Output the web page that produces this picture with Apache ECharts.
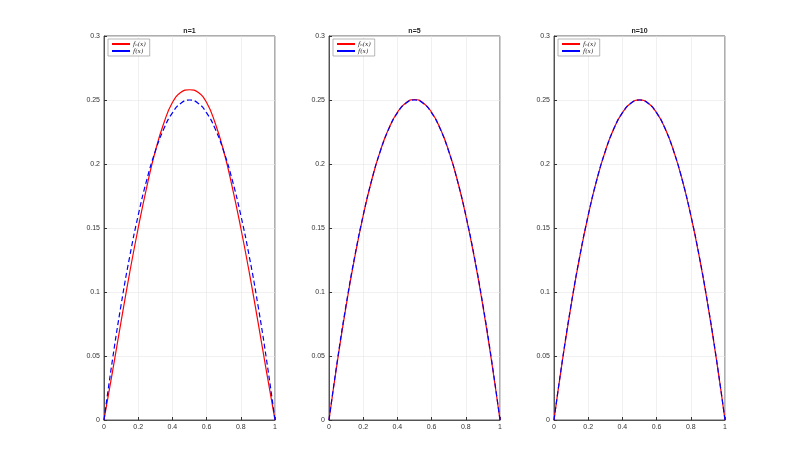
<!DOCTYPE html>
<html><head><meta charset="utf-8">
<script src="https://cdn.jsdelivr.net/npm/echarts@6/dist/echarts.min.js"></script>
<style>body{margin:0;background:#fff}#c{width:800px;height:472px}</style>
</head><body><div id="c"></div>
<script>
// x 采样点
const xs = [0, 0.05, 0.1, 0.15, 0.2, 0.25, 0.3, 0.35, 0.4, 0.45, 0.5, 0.55, 0.6, 0.65, 0.7, 0.75, 0.8, 0.85, 0.9, 0.95, 1]
const titles = ['n=1', 'n=5', 'n=10']
// f(x)
const fTrue = [0, 0.0475, 0.09, 0.1275, 0.16, 0.1875, 0.21, 0.2275, 0.24, 0.2475, 0.25, 0.2475, 0.24, 0.2275, 0.21, 0.1875, 0.16, 0.1275, 0.09, 0.0475, 0]
// f_n(x)
const fN1 = [0, 0.038, 0.077, 0.115, 0.150, 0.182, 0.210, 0.232, 0.248, 0.256, 0.258, 0.256, 0.248, 0.232, 0.210, 0.182, 0.150, 0.115, 0.077, 0.038, 0]
const fN5 = [0, 0.0465, 0.0890, 0.1268, 0.1597, 0.1876, 0.2103, 0.2279, 0.2404, 0.2479, 0.2504, 0.2479, 0.2404, 0.2279, 0.2103, 0.1876, 0.1597, 0.1268, 0.0890, 0.0465, 0]
const fN10 = [0, 0.0471, 0.0896, 0.1273, 0.1599, 0.1876, 0.2101, 0.2277, 0.2401, 0.2476, 0.2501, 0.2476, 0.2401, 0.2277, 0.2101, 0.1876, 0.1599, 0.1273, 0.0896, 0.0471, 0]
const fNs = [fN1, fN5, fN10]

const lefts = [104, 329, 554]
const pw = 171
const grid = [], xAxis = [], yAxis = [], series = [], title = [], legend = []
const axisCommon = {
  axisLine: { show: true, lineStyle: { color: '#333', width: 0.8 } },
  axisTick: { show: true, inside: true, length: 3, lineStyle: { color: '#333' } },
  axisLabel: { fontSize: 7, color: '#333', fontFamily: 'Liberation Sans' },
  splitLine: { show: true, lineStyle: { color: '#e6e6e6', width: 0.6 } }
}
lefts.forEach((l, i) => {
  grid.push({ left: l, top: 36, width: pw, height: 384, show: true, borderColor: '#333', borderWidth: 0.8, backgroundColor: '#fff' })
  xAxis.push(Object.assign({ type: 'value', gridIndex: i, min: 0, max: 1, interval: 0.2 }, axisCommon,
    { axisLabel: Object.assign({}, axisCommon.axisLabel, { margin: 4, formatter: v => String(+v.toFixed(1)) }) }))
  yAxis.push(Object.assign({ type: 'value', gridIndex: i, min: 0, max: 0.3, interval: 0.05 }, axisCommon,
    { axisLabel: Object.assign({}, axisCommon.axisLabel, { margin: 4, formatter: v => String(+v.toFixed(2)) }) }))
  title.push({ text: titles[i], left: l + pw / 2, top: 28, textAlign: 'center', padding: 0,
    textStyle: { fontSize: 7, fontWeight: 'bold', color: '#222', fontFamily: 'Liberation Sans' } })
  series.push({ name: 'fn' + i, type: 'line', xAxisIndex: i, yAxisIndex: i, smooth: true, symbol: 'none',
    data: xs.map((x, k) => [x, fNs[i][k]]), itemStyle: { color: '#ff0000' }, lineStyle: { color: '#ff0000', width: 1.2 } })
  series.push({ name: 'f' + i, type: 'line', xAxisIndex: i, yAxisIndex: i, smooth: true, symbol: 'none',
    data: xs.map((x, k) => [x, fTrue[k]]), itemStyle: { color: '#0000ff' }, lineStyle: { color: '#0000ff', width: 1.2, type: [5, 3] } })
  legend.push({ data: ['fn' + i, 'f' + i], left: l + 4, top: 39, orient: 'vertical', itemWidth: 18, itemHeight: 2, itemGap: 1,
    padding: [2, 4], borderColor: '#888', borderWidth: 0.6, backgroundColor: '#fff', icon: 'rect',
    formatter: n => n.startsWith('fn') ? 'fₙ(x)' : 'f(x)',
    textStyle: { fontSize: 6, fontStyle: 'italic', fontFamily: 'DejaVu Serif', color: '#222', padding: [0, 0, 0, -2] } })
})
echarts.init(document.getElementById('c')).setOption({
  animation: false, grid, xAxis, yAxis, series, title, legend
})
</script></body></html>
